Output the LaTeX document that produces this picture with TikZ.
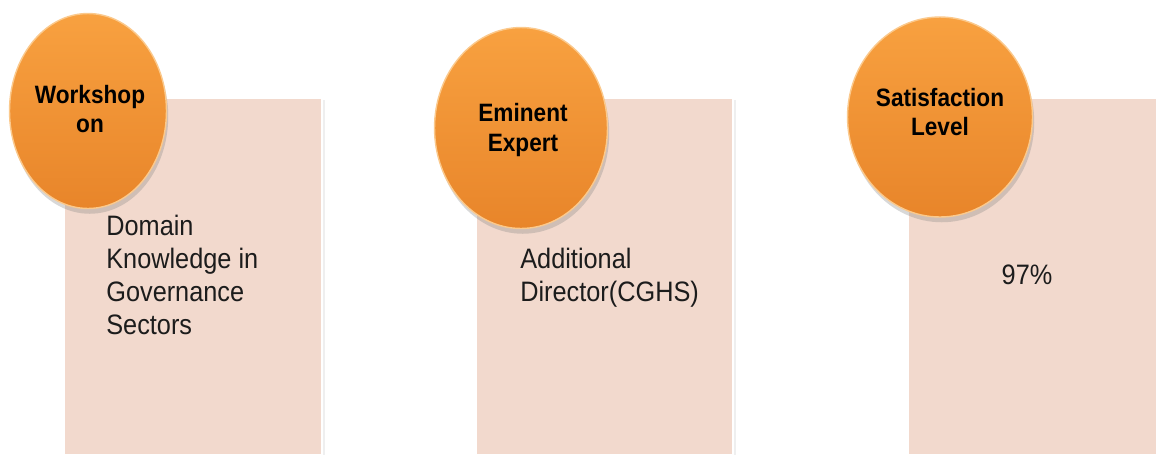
\documentclass[tikz,border=0pt]{standalone}
\usepackage{fontspec}
\setmainfont{Liberation Sans}[FakeStretch=0.9]
\usetikzlibrary{shapes.geometric,shadows}

\definecolor{panelpink}{HTML}{F2D9CD}
\definecolor{ballhi}{HTML}{F8A140}
\definecolor{balllo}{HTML}{E8852A}
\definecolor{ballrim}{HTML}{FBC98C}
\definecolor{bodyink}{HTML}{1C1C1C}

\begin{document}
\begin{tikzpicture}[x=0.02cm,y=-0.02cm,
    panel/.style={rectangle, anchor=north west, fill=panelpink, draw=white,
      line width=1.2pt, minimum height=7.14cm, inner sep=0pt,
      drop shadow={opacity=0.12, shadow xshift=1.5pt, shadow yshift=-1pt}},
    bubble/.style={ellipse, inner sep=0pt, top color=ballhi, bottom color=balllo,
      draw=ballrim, line width=0.8pt,
      drop shadow={opacity=0.3, shadow xshift=1pt, shadow yshift=-3pt}},
    headtext/.style={align=center, inner sep=0pt, text=black,
      font=\bfseries\fontsize{14.3}{17}\selectfont},
    bodytext/.style={align=left, inner sep=0pt, text=bodyink,
      font=\fontsize{16}{18.8}\selectfont}]
  \useasboundingbox[fill=white] (0,0) rectangle (1156,454);

  % the three pink panels
  \node[panel, minimum width=5.16cm] (p1) at (63,97) {};
  \node[panel, minimum width=5.14cm] (p2) at (475,97) {};
  \node[panel, minimum width=5.10cm] (p3) at (907,97) {};

  % orange bubbles over the top left corners
  \node[bubble, minimum width=3.14cm, minimum height=3.9cm] (b1) at (88,111) {};
  \node[bubble, minimum width=3.46cm, minimum height=4.02cm] (b2) at (521,128) {};
  \node[bubble, minimum width=3.7cm, minimum height=4.0cm] (b3) at (940,117) {};

  % bubble titles
  \node[headtext] (h1) at (90,109) {Workshop\\on};
  \node[headtext] (h2) at (523,130) {Eminent\\Expert};
  \node[headtext] (h3) at (940,112) {Satisfaction\\Level};

  % panel texts
  \node[bodytext, anchor=north west] (d1) at (106,215)
    {Domain\\Knowledge in\\Governance\\Sectors};
  \node[bodytext, anchor=north west] (d2) at (520,248)
    {Additional\\Director(CGHS)};
  \node[bodytext, anchor=north] (d3) at (1027,265) {97\%};
\end{tikzpicture}
\end{document}
